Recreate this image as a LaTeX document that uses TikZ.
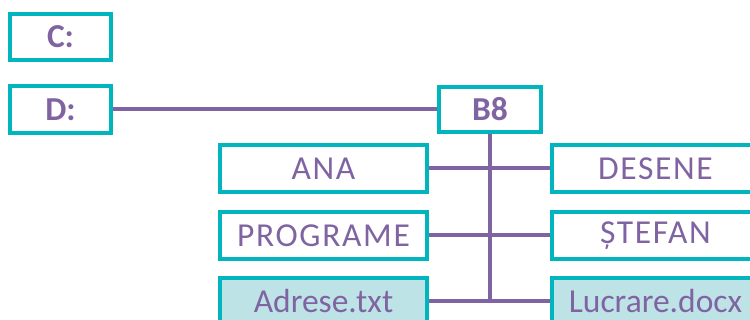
\documentclass[tikz,border=0pt]{standalone}
\usepackage{fontspec}
\setmainfont{Carlito}
\definecolor{tealline}{RGB}{0,181,189}
\definecolor{linkpurple}{RGB}{128,100,162}
\definecolor{filefill}{RGB}{190,227,230}
\begin{document}
\begin{tikzpicture}[x=1pt,y=-1pt,
  box/.style={draw=tealline, line width=3.8pt, fill=white, inner sep=0pt,
    text=linkpurple, font=\fontsize{33.5}{38}\selectfont, anchor=center},
  drive/.style={box, minimum width=101.2pt, minimum height=46.7pt, font=\fontsize{33.5}{38}\selectfont\bfseries},
  folder/.style={box, minimum width=207.2pt, minimum height=47.2pt},
  filebox/.style={folder, fill=filefill},
  spaced/.style={font=\fontsize{33.5}{38}\selectfont\addfontfeature{LetterSpace=5}},
  link/.style={draw=linkpurple, line width=4pt}]
\clip (0,0) rectangle (750,320);
\fill[white] (0,0) rectangle (750,320);

% drives and the B8 folder
\node[drive] (c) at (60.5,37) {C:};
\node[drive] (d) at (60.5,109.5) {D:};
\node[drive, minimum width=102.2pt, minimum height=45.2pt] (b8) at (490,109.5) {B8};

% contents of B8
\node[folder, spaced] (ana) at (323.5,168.5) {ANA};
\node[folder, spaced] (prog) at (323.5,235.5) {PROGRAME};
\node[filebox] (adr) at (323.5,301.5) {Adrese.txt};
\node[folder, spaced] (des) at (655.5,168.5) {DESENE};
\node[folder, spaced] (stef) at (655.5,235.5) {ȘTEFAN};
\node[filebox] (lucr) at (655.5,301.5) {Lucrare.docx};

\coordinate (trunk) at (490,301.5);

% tree connectors
\draw[link] (d.east) -- (b8.west);
\draw[link] (b8.south) -- (trunk);
\draw[link] (ana.east) -- (des.west);
\draw[link] (prog.east) -- (stef.west);
\draw[link] (adr.east) -- (lucr.west);
\end{tikzpicture}
\end{document}
